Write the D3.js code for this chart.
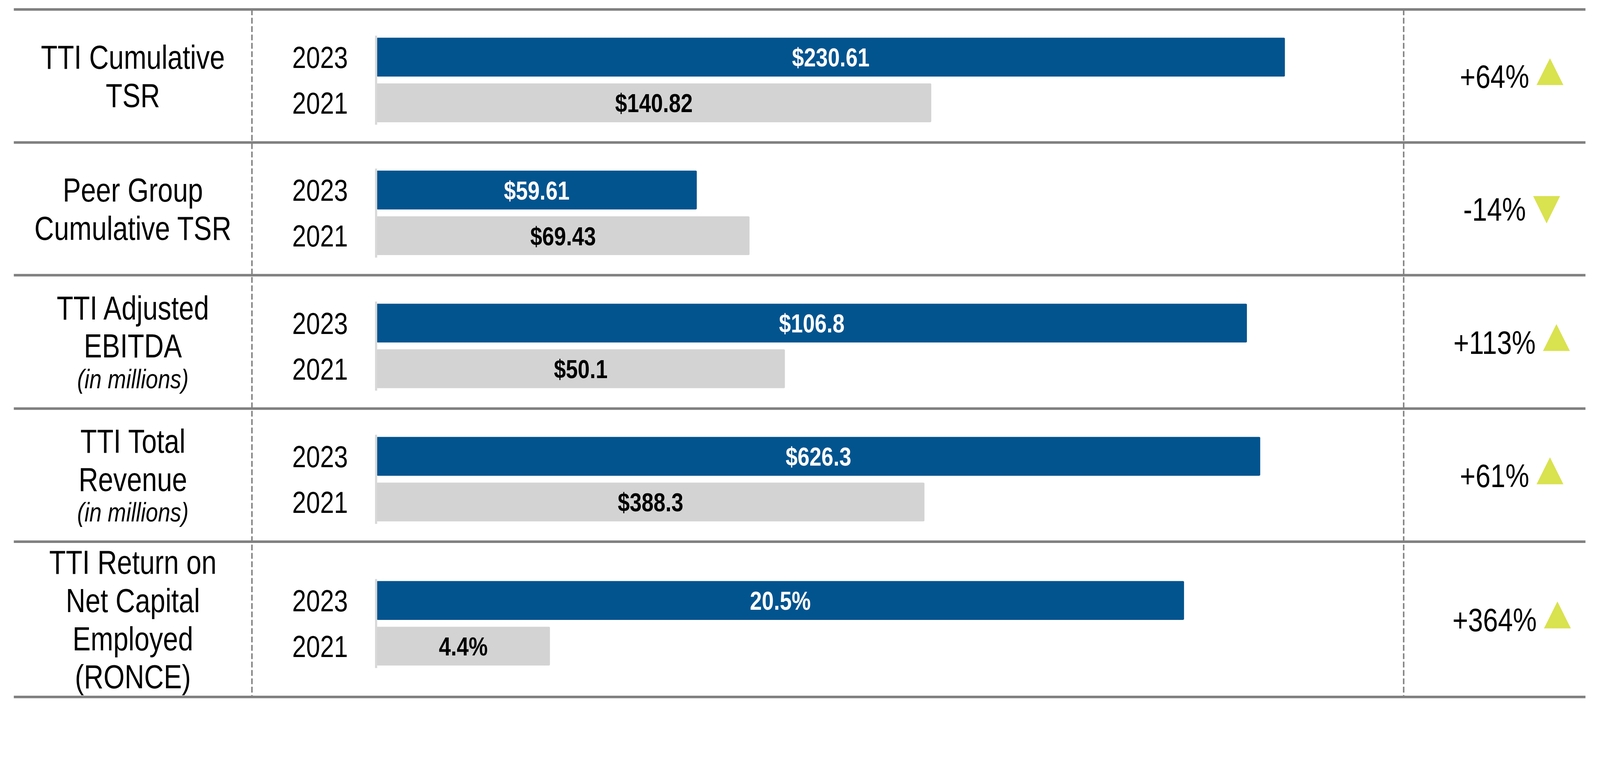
<!DOCTYPE html>
<html>
<head>
<meta charset="utf-8">
<script src="https://cdn.jsdelivr.net/npm/d3@7"></script>
<style>
  html, body { margin: 0; padding: 0; background: #fff; overflow: hidden; }
  svg { display: block; width: 100%; height: auto; }
  text { font-family: "Liberation Sans", Arial, sans-serif; }
</style>
</head>
<body>
<script>
// metric labels, one entry per row
let metricLines = [
    ["TTI Cumulative", "TSR"],
    ["Peer Group", "Cumulative TSR"],
    ["TTI Adjusted", "EBITDA"],
    ["TTI Total", "Revenue"],
    ["TTI Return on", "Net Capital", "Employed", "(RONCE)"]
];
let metricNotes = ["", "", "(in millions)", "(in millions)", ""];
let years = ["2023", "2021"];
let values2023 = [230.61, 59.61, 106.8, 626.3, 20.5];
let values2021 = [140.82, 69.43, 50.1, 388.3, 4.4];
let labels2023 = ["$230.61", "$59.61", "$106.8", "$626.3", "20.5%"];
let labels2021 = ["$140.82", "$69.43", "$50.1", "$388.3", "4.4%"];
let changeLabels = ["+64%", "-14%", "+113%", "+61%", "+364%"];
let axisMax = [240, 176, 116, 670, 24];

let width = 4401;
let height = 1961;
let rowLines = [26, 392, 757, 1124, 1490, 1917];
let col = { left: 38, split1: 693, barX: 1036, barW: 2600, split2: 3861, right: 4361 };
let narrow = 0.82; // no Arial Narrow installed, squeeze Liberation Sans instead

let colors = { blue: '#02548f', gray: '#d3d3d3', axis: '#d9d9d9', rule: '#808080', arrow: '#d9e24f' };

function squeeze(sel, x) {
    sel.attr("transform", "translate(" + x + ",0) scale(" + narrow + ",1) translate(" + (-x) + ",0)");
}

let svg = d3.select("body")
    .append("svg")
    .attr("viewBox", "0 0 " + width + " " + height);

// horizontal rules
svg.selectAll("nothing")
    .data(rowLines)
    .join("line")
    .attr("x1", col.left)
    .attr("x2", col.right)
    .attr("y1", d => d)
    .attr("y2", d => d)
    .attr("stroke", colors.rule)
    .attr("stroke-width", 7);

// dashed column separators
svg.selectAll("nothing")
    .data([col.split1, col.split2])
    .join("line")
    .attr("x1", d => d)
    .attr("x2", d => d)
    .attr("y1", rowLines[0])
    .attr("y2", rowLines[rowLines.length - 1])
    .attr("stroke", colors.rule)
    .attr("stroke-width", 4)
    .attr("stroke-dasharray", "16,7");

metricLines.forEach((lines, i) => {
    let top = rowLines[i];
    let bottom = rowLines[i + 1];
    let c = (top + bottom) / 2;

    // category label
    let catSize = 91, lineGap = 105, noteGap = 84;
    let span = (lines.length - 1) * lineGap + (metricNotes[i] ? noteGap : 0);
    let capH = catSize * 0.716;
    let b1 = c - (span - capH) / 2;
    let cx = (col.left + col.split1) / 2;
    let label = svg.append("text")
        .attr("text-anchor", "middle")
        .style("font-size", catSize + "px")
        .style("fill", "#000");
    lines.forEach((t, j) => {
        label.append("tspan")
            .attr("x", cx)
            .attr("y", b1 + j * lineGap)
            .text(t);
    });
    if (metricNotes[i]) {
        label.append("tspan")
            .attr("x", cx)
            .attr("y", b1 + (lines.length - 1) * lineGap + noteGap)
            .style("font-size", "74px")
            .style("font-style", "italic")
            .text(metricNotes[i]);
    }
    squeeze(label, cx);

    // bars
    let xScale = d3.scaleLinear()
        .domain([0, axisMax[i]])
        .range([col.barX, col.barX + col.barW]);
    let yScale = d3.scaleBand()
        .domain(years)
        .range([c + 11 - 122.5, c + 11 + 122.5])
        .paddingInner(0.15)
        .paddingOuter(0.05);

    let rowData = [
        { year: years[0], v: values2023[i], label: labels2023[i], fill: colors.blue, text: '#fff' },
        { year: years[1], v: values2021[i], label: labels2021[i], fill: colors.gray, text: '#000' }
    ];

    let g = svg.append("g").attr("class", "row");

    g.selectAll("nothing")
        .data(rowData)
        .join("rect")
        .attr("x", xScale(0))
        .attr("y", d => yScale(d.year))
        .attr("width", d => xScale(d.v) - xScale(0))
        .attr("height", yScale.bandwidth())
        .attr("rx", 3)
        .attr("fill", d => d.fill);

    g.selectAll("nothing")
        .data(rowData)
        .join("text")
        .attr("x", d => (xScale(0) + xScale(d.v)) / 2)
        .attr("y", d => yScale(d.year) + yScale.bandwidth() / 2 + 26)
        .attr("text-anchor", "middle")
        .style("font-size", "72px")
        .style("font-weight", "bold")
        .style("fill", d => d.text)
        .text(d => d.label)
        .each(function (d) {
            squeeze(d3.select(this), (xScale(0) + xScale(d.v)) / 2);
        });

    let yAxis = d3.axisLeft(yScale)
        .tickSize(0)
        .tickPadding(77);
    let ax = svg.append("g")
        .attr("class", "axis")
        .attr("transform", "translate(" + (col.barX - 2) + ",0)")
        .call(yAxis);
    ax.select(".domain")
        .attr("stroke", colors.axis)
        .attr("stroke-width", 6);
    ax.selectAll("text")
        .attr("dy", null)
        .attr("y", 30)
        .style("font-size", "84px")
        .style("font-family", '"Liberation Sans", Arial, sans-serif')
        .style("fill", "#000")
        .each(function () {
            squeeze(d3.select(this), -77);
        });

    // change column
    let pc = (col.split2 + col.right) / 2;
    let pct = svg.append("text")
        .attr("x", pc)
        .attr("y", c + 33)
        .attr("text-anchor", "middle")
        .style("font-size", "90px")
        .style("fill", "#000")
        .text(changeLabels[i]);
    squeeze(pct, pc);
    let tw = pct.node().getComputedTextLength() * narrow;
    let tx = pc + tw / 2 + 20;
    let up = changeLabels[i][0] !== "-";
    let tri = up
        ? [[tx, c + 25], [tx + 37, c - 49], [tx + 74, c + 25]]
        : [[tx, c - 35], [tx + 74, c - 35], [tx + 37, c + 40]];
    svg.append("path")
        .attr("d", d3.line()(tri) + "Z")
        .attr("fill", colors.arrow);
});
</script>
</body>
</html>
